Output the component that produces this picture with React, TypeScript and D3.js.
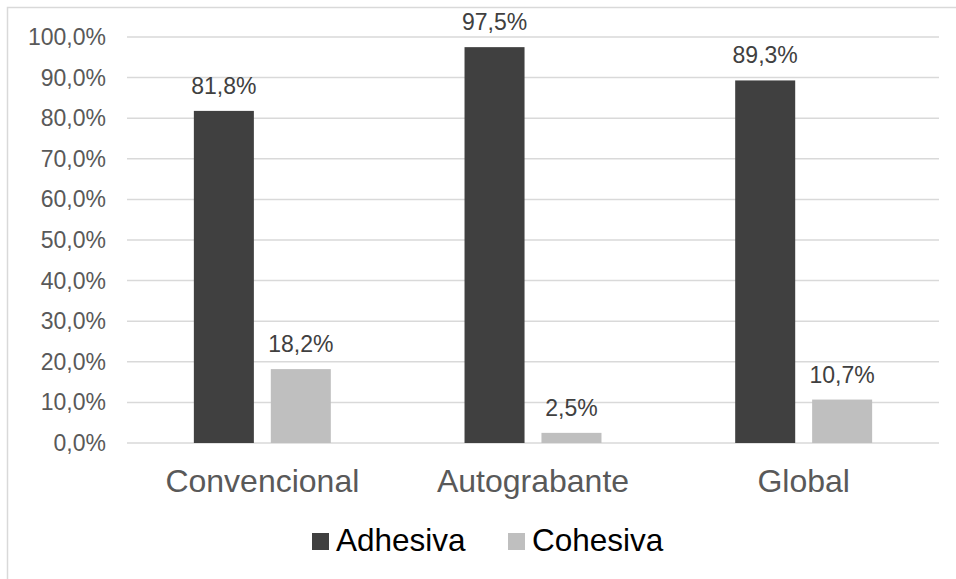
import React, { useEffect, useRef } from 'react';
import * as d3 from 'd3';

const categories = ['Convencional', 'Autograbante', 'Global'];
const series = ['Adhesiva', 'Cohesiva'];
const adhesiva = [81.8, 97.5, 89.3];
const cohesiva = [18.2, 2.5, 10.7];
const yTicks = [0, 10, 20, 30, 40, 50, 60, 70, 80, 90, 100];
const colors = ['#404040', '#bfbfbf'];

const fmt = (v: number) => v.toFixed(1).replace('.', ',') + '%';

export default function App() {
  const ref = useRef<SVGSVGElement>(null);

  useEffect(() => {
    const w = 956;
    const h = 579;
    const font = "'Liberation Sans', Arial, sans-serif";
    const svg = d3.select(ref.current);
    svg.selectAll('*').remove();

    // outer frame (runs off the bottom / right of the picture)
    svg.append('rect')
      .attr('x', 7.5).attr('y', 7.5)
      .attr('width', w + 20).attr('height', h + 20)
      .attr('fill', 'white')
      .attr('stroke', '#d9d9d9')
      .attr('stroke-width', 1.5);

    const left = 127, right = 939, top = 37, bottom = 443;

    const y = d3.scaleLinear().domain([0, 100]).range([bottom, top]);

    const x0 = d3.scaleBand<string>()
      .domain(categories)
      .range([left, right])
      .paddingInner(0.494)
      .paddingOuter(0.247);

    const x1 = d3.scaleBand<string>()
      .domain(series)
      .range([0, x0.bandwidth()])
      .paddingInner(0.22);

    // gridlines
    svg.append('g').selectAll('line')
      .data(yTicks)
      .enter()
      .append('line')
      .attr('x1', left).attr('x2', right)
      .attr('y1', d => y(d)).attr('y2', d => y(d))
      .attr('stroke', '#d9d9d9')
      .attr('stroke-width', 1.5);

    // y labels
    svg.append('g').selectAll('text')
      .data(yTicks)
      .enter()
      .append('text')
      .attr('x', 106)
      .attr('y', d => y(d) + 8)
      .attr('text-anchor', 'end')
      .attr('font-family', font)
      .attr('font-size', 23)
      .attr('fill', '#595959')
      .text(d => fmt(d));

    const values = [adhesiva, cohesiva];
    series.forEach((s, si) => {
      const g = svg.append('g');
      g.selectAll('rect')
        .data(values[si])
        .enter()
        .append('rect')
        .attr('x', (d, i) => (x0(categories[i]) as number) + (x1(s) as number))
        .attr('y', d => y(d))
        .attr('width', x1.bandwidth())
        .attr('height', d => bottom - y(d))
        .attr('fill', colors[si]);

      g.selectAll('text')
        .data(values[si])
        .enter()
        .append('text')
        .attr('x', (d, i) => (x0(categories[i]) as number) + (x1(s) as number) + x1.bandwidth() / 2)
        .attr('y', d => y(d) - 17)
        .attr('text-anchor', 'middle')
        .attr('font-family', font)
        .attr('font-size', 23)
        .attr('fill', '#404040')
        .text(d => fmt(d));
    });

    // category labels
    svg.append('g').selectAll('text')
      .data(categories)
      .enter()
      .append('text')
      .attr('x', d => (x0(d) as number) + x0.bandwidth() / 2)
      .attr('y', 491.5)
      .attr('text-anchor', 'middle')
      .attr('font-family', font)
      .attr('font-size', 32)
      .attr('fill', '#595959')
      .text(d => d);

    // legend
    const legendX = [312, 508];
    const legend = svg.append('g');
    series.forEach((s, i) => {
      legend.append('rect')
        .attr('x', legendX[i]).attr('y', 533)
        .attr('width', 17).attr('height', 17)
        .attr('fill', colors[i]);
      legend.append('text')
        .attr('x', legendX[i] + 24)
        .attr('y', 551)
        .attr('font-family', font)
        .attr('font-size', 31.5)
        .attr('fill', '#000')
        .text(s);
    });
  }, []);

  return (
    <div style={{ position: 'fixed', left: 0, top: 0 }}>
      <svg ref={ref} width={956} height={579} style={{ display: 'block' }} />
    </div>
  );
}
